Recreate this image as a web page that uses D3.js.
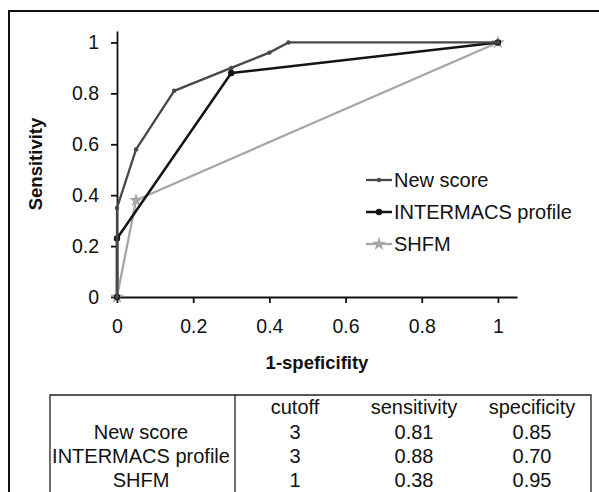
<!DOCTYPE html>
<html>
<head>
<meta charset="utf-8">
<script src="https://cdn.jsdelivr.net/npm/d3@7"></script>
<style>
  body { margin: 0; background: #fff; }
  svg { font-family: "Liberation Sans", Arial, sans-serif; }
</style>
</head>
<body>
<div id="chart"></div>
<script>
// ROC points (1-specificity, sensitivity)
const newScoreX = [0, 0, 0.05, 0.15, 0.3, 0.4, 0.45, 1];
const newScoreY = [0, 0.35, 0.58, 0.81, 0.9, 0.96, 1, 1];
const intermacsX = [0, 0, 0.3, 1];
const intermacsY = [0, 0.23, 0.88, 1];
const shfmX = [0, 0.05, 1];
const shfmY = [0, 0.38, 1];

const seriesNames = ["New score", "INTERMACS profile", "SHFM"];
const ticks = [0, 0.2, 0.4, 0.6, 0.8, 1];

// table below the chart
const tableHeader = ["", "cutoff", "sensitivity", "specificity"];
const tableCutoff = [3, 3, 1];
const tableSens = ["0.81", "0.88", "0.38"];
const tableSpec = ["0.85", "0.70", "0.95"];

const width = 599, height = 492;

const svg = d3.select("#chart").append("svg")
    .attr("width", width)
    .attr("height", height);

// outer frame (left and top edges visible)
svg.append("path")
    .attr("d", "M9,492 L9,11 L599,11")
    .attr("fill", "none")
    .attr("stroke", "#111")
    .attr("stroke-width", 2);

const x = d3.scaleLinear().domain([0, 1.05]).range([117, 517]);
const y = d3.scaleLinear().domain([0, 1.045]).range([297, 31]);
const fmt = d3.format("~g");

const xAxis = svg.append("g")
    .attr("transform", "translate(0,297)")
    .call(d3.axisBottom(x).tickValues(ticks).tickFormat(fmt).tickSize(6).tickSizeOuter(0).tickPadding(16));

const yAxis = svg.append("g")
    .attr("transform", "translate(117,0)")
    .call(d3.axisLeft(y).tickValues(ticks).tickFormat(fmt).tickSize(6).tickSizeOuter(0).tickPadding(12));

[xAxis, yAxis].forEach(g => {
    g.select(".domain").attr("stroke", "#111").attr("stroke-width", 1.8);
    g.selectAll(".tick line").attr("stroke", "#111").attr("stroke-width", 1.8);
    g.selectAll(".tick text")
        .attr("fill", "#111")
        .style("font-size", "19.5px")
        .style("font-family", "'Liberation Sans', Arial, sans-serif");
});

// axis titles
svg.append("text")
    .attr("x", 317).attr("y", 369)
    .attr("text-anchor", "middle")
    .style("font-size", "18.5px")
    .style("font-weight", "bold")
    .attr("fill", "#111")
    .text("1-speficifity");

svg.append("text")
    .attr("transform", "translate(42,164) rotate(-90)")
    .attr("text-anchor", "middle")
    .style("font-size", "18.5px")
    .style("font-weight", "bold")
    .attr("fill", "#111")
    .text("Sensitivity");

const series = [
    { name: seriesNames[0], xs: newScoreX, ys: newScoreY, color: "#474747", w: 2.3, marker: "dot", r: 2.2 },
    { name: seriesNames[1], xs: intermacsX, ys: intermacsY, color: "#141414", w: 2.5, marker: "dot", r: 3.2 },
    { name: seriesNames[2], xs: shfmX, ys: shfmY, color: "#a6a6a6", w: 2.3, marker: "star", r: 5 }
];

const line = d3.line().x(d => x(d[0])).y(d => y(d[1]));
const star = d3.symbol().type(d3.symbolStar).size(60);

function drawMarker(g, px, py, s) {
    if (s.marker === "dot") {
        g.append("circle").attr("cx", px).attr("cy", py).attr("r", s.r).attr("fill", s.color);
    } else {
        g.append("path").attr("d", star()).attr("transform", `translate(${px},${py})`)
            .attr("fill", s.color);
    }
}

// draw in reverse so New score ends on top
series.slice().reverse().forEach(s => {
    const pts = s.xs.map((v, i) => [v, s.ys[i]]);
    const g = svg.append("g");
    g.append("path")
        .attr("d", line(pts))
        .attr("fill", "none")
        .attr("stroke", s.color)
        .attr("stroke-width", s.w)
        .attr("stroke-linejoin", "round");
    pts.forEach(p => drawMarker(g, x(p[0]), y(p[1]), s));
});

// legend
const legY = [180, 212, 244];
series.forEach((s, i) => {
    const g = svg.append("g");
    g.append("line")
        .attr("x1", 366).attr("x2", 392)
        .attr("y1", legY[i]).attr("y2", legY[i])
        .attr("stroke", s.color).attr("stroke-width", s.w);
    drawMarker(g, 379, legY[i], s);
    g.append("text")
        .attr("x", 394).attr("y", legY[i] + 7)
        .style("font-size", "20px")
        .attr("fill", "#111")
        .text(s.name);
});

// table
const tbl = svg.append("g");
const tLeft = 50, tRight = 591, tTop = 395, tDiv = 235;
tbl.append("path")
    .attr("d", `M${tLeft},${height} L${tLeft},${tTop} L${tRight},${tTop} L${tRight},${height} M${tDiv},${tTop} L${tDiv},${height}`)
    .attr("fill", "none")
    .attr("stroke", "#222")
    .attr("stroke-width", 1.3);

const colX = [141, 295, 414, 532];
const rowY = [414, 439, 463, 487];

tableHeader.forEach((h, j) => {
    tbl.append("text").attr("x", colX[j]).attr("y", rowY[0])
        .attr("text-anchor", "middle").style("font-size", "20px").attr("fill", "#111").text(h);
});
seriesNames.forEach((n, i) => {
    const vals = [n, tableCutoff[i], tableSens[i], tableSpec[i]];
    vals.forEach((v, j) => {
        tbl.append("text").attr("x", colX[j]).attr("y", rowY[i + 1])
            .attr("text-anchor", "middle").style("font-size", "20px").attr("fill", "#111").text(v);
    });
});
</script>
</body>
</html>
